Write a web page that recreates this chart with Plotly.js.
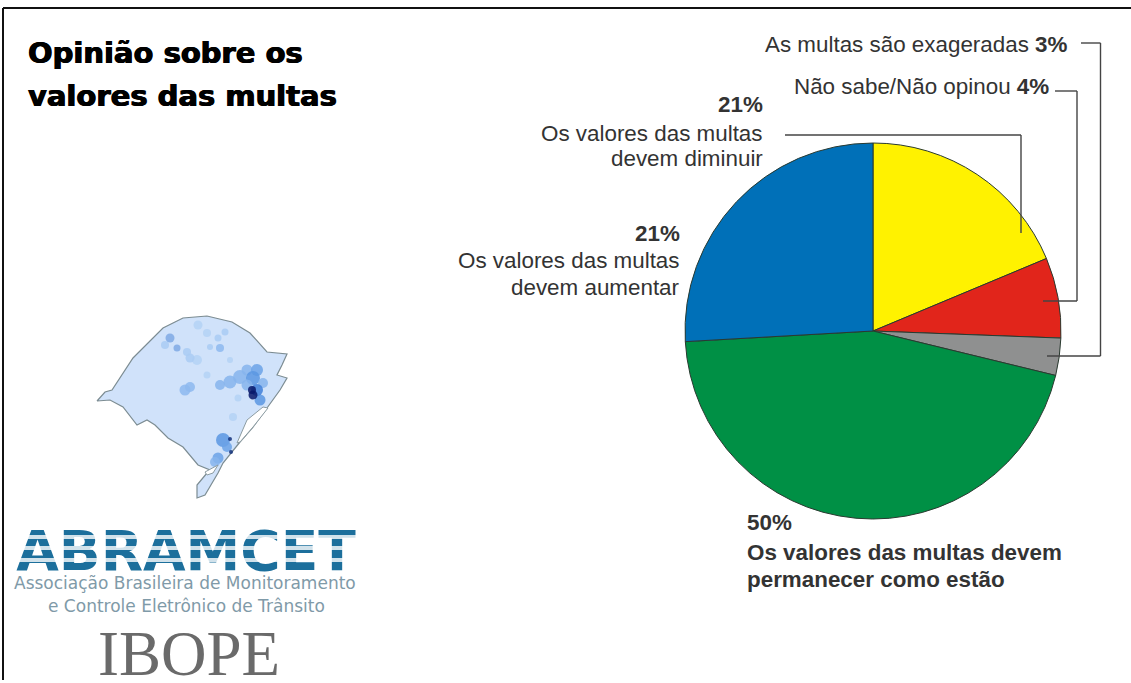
<!DOCTYPE html>
<html><head><meta charset="utf-8">
<script src="https://cdn.plot.ly/plotly-3.0.1.min.js"></script>
<style>html,body{margin:0;padding:0;background:#fff}#c{width:1131px;height:683px}</style>
</head><body><div id="c"></div>
<script>
const categories = ["Os valores das multas devem diminuir","Não sabe/Não opinou","As multas são exageradas","Os valores das multas devem permanecer como estão","Os valores das multas devem aumentar"];
const sliceShares = [18.7, 6.9, 3.2, 45.3, 25.9];
const sliceColors = ["#fff200","#e1251b","#8f9090","#009045","#0070b8"];

const mapX = [97,105,112,122,133,148,163,183,207,232,250,267,287,282,277,287,280,267,253,240,232,223,218,205,197,197,207,210,198,183,168,155,147,137,123,110];
const mapY = [401,392,390,375,358,343,328,318,316,322,333,352,354,365,375,378,390,408,427,442,452,463,473,495,498,485,473,470,465,447,438,425,420,425,407,400];
const lagoonX = [237,247,263,268,253,240];
const lagoonY = [443,420,407,408,427,442];
const mirimX = [205,218,213,207];
const mirimY = [472,465,473,475];
const blotchX = [170,177,165,187,198,225,220,210,197,190,207,218,230,185,190,207,220,230,240,247,257,253,263,247,260,257,238,233,223,227,218,215,253,252,230,231];
const blotchY = [338,348,345,352,325,332,348,347,360,358,333,338,360,390,387,375,385,382,377,370,370,378,383,385,400,390,398,417,440,447,458,462,395,390,439,452];
const blotchS = [9,7,8,8,9,7,8,6,10,9,8,7,6,11,10,7,10,13,14,11,12,14,10,11,11,12,7,8,14,10,11,10,9,8,4,4];
const blotchC = ["#7fa9e4","#7fa9e4","#a9cbf3","#a9cbf3","#b4d2f5","#a9cbf3","#8db9ee","#a9cbf3","#b4d2f5","#a9cbf3","#b4d2f5","#a9cbf3","#b4d2f5","#8db9ee","#8db9ee","#b4d2f5","#86b4ec","#86b4ec","#86b4ec","#86b4ec","#6ba2e6","#5a96e2","#86b4ec","#86b4ec","#5a96e2","#3f7fd8","#b4d2f5","#b4d2f5","#5a96e2","#6ba2e6","#6ba2e6","#86b4ec","#08186a","#08186a","#12307a","#12307a"];

const titleLines = ["Opinião sobre os","valores das multas"];

const traces = [
  {type:"pie",values:sliceShares,labels:categories,sort:false,direction:"clockwise",rotation:0,
   marker:{colors:sliceColors,line:{color:"#2a3a30",width:1}},textinfo:"none",hoverinfo:"skip",showlegend:false,
   domain:{x:[685/1131,1061/1131],y:[1-519/683,1-143/683]}},
  {type:"scatter",mode:"lines",x:mapX.concat(mapX[0]),y:mapY.concat(mapY[0]),fill:"toself",fillcolor:"#d0e2fa",line:{color:"#7c8c92",width:1.2},hoverinfo:"skip",showlegend:false},
  {type:"scatter",mode:"markers",x:blotchX,y:blotchY,marker:{size:blotchS,color:blotchC,opacity:.85,line:{width:0}},hoverinfo:"skip",showlegend:false},
  {type:"scatter",mode:"lines",x:lagoonX.concat(lagoonX[0]),y:lagoonY.concat(lagoonY[0]),fill:"toself",fillcolor:"#fff",line:{color:"#8c9ca2",width:1},hoverinfo:"skip",showlegend:false},
  {type:"scatter",mode:"lines",x:mirimX.concat(mirimX[0]),y:mirimY.concat(mirimY[0]),fill:"toself",fillcolor:"#fff",line:{color:"#8c9ca2",width:1},hoverinfo:"skip",showlegend:false},
  {type:"scatter",mode:"text",x:[186],y:[556],text:["ABRAMCET"],textposition:"middle center",
   textfont:{family:"DejaVu Sans",size:55,weight:700,color:"#1c6f9c"},hoverinfo:"skip",showlegend:false}
];

const line=(x0,y0,x1,y1,color,w,op)=>({type:"line",xref:"x",yref:"y",x0,y0,x1,y1,layer:"above",opacity:op||1,line:{color:color||"#444",width:w||1.4}});
const shapes=[
  line(3,8,1131,8,"#111",2), line(3,8,3,680,"#111",2),
  line(1081,43,1100.5,43), line(1100.5,43,1100.5,356), line(1100.5,356,1047,356),
  line(1055,91,1077,91), line(1077,91,1077,301), line(1077,301,1043,301),
  line(785,135,1021,135), line(1021,135,1021,233),
  line(10,537,362,537,"#fff",4,.8), line(10,548,362,548,"#fff",4,.8), line(10,560,362,560,"#fff",4,.8)
];
const note=(text,x,y,anchor,o={})=>Object.assign({text,x,y,xref:"x",yref:"y",xanchor:anchor,yanchor:"middle",showarrow:false,
  font:{family:"Liberation Sans",size:22.4,color:"#333"}},o);
const f=(size,color,family,weight,shadow)=>({font:{size,color,family:family||"Liberation Sans",weight:weight||400,shadow:shadow||"none"}});
const heavy="0.6px 0 0 #000, -0.6px 0 0 #000";
const annotations=[
  note(titleLines[0],26,53,"left",f(29,"#000","DejaVu Sans",700,heavy)),
  note(titleLines[1],26,96,"left",f(29,"#000","DejaVu Sans",700,heavy)),
  note("As multas são exageradas <b>3%</b>",1070,44,"right"),
  note("Não sabe/Não opinou <b>4%</b>",1051,86,"right"),
  note("<b>21%</b>",765,104,"right"),
  note("Os valores das multas",765,133,"right"),
  note("devem diminuir",765,158,"right"),
  note("<b>21%</b>",682,233,"right"),
  note("Os valores das multas",682,260,"right"),
  note("devem aumentar",682,287,"right"),
  note("<b>50%</b>",745,522,"left"),
  note("<b>Os valores das multas devem</b>",745,552,"left"),
  note("<b>permanecer como estão</b>",745,579,"left"),
  note("Associação Brasileira de Monitoramento",185,583,"center",f(17,"#7f9aa8","DejaVu Sans")),
  note("e Controle Eletrônico de Trânsito",186,606,"center",f(17,"#7f9aa8","DejaVu Sans")),
  note("IBOPE",189,654,"center",f(63,"#6a6a6a","Liberation Serif"))
];
const hidden={visible:false,fixedrange:true};
Plotly.newPlot("c",traces,{
  width:1131,height:683,margin:{l:0,r:0,t:0,b:0},paper_bgcolor:"#fff",plot_bgcolor:"rgba(0,0,0,0)",
  xaxis:Object.assign({range:[0,1131]},hidden),yaxis:Object.assign({range:[683,0]},hidden),
  shapes,annotations,showlegend:false
},{displayModeBar:false,staticPlot:true});
</script></body></html>
